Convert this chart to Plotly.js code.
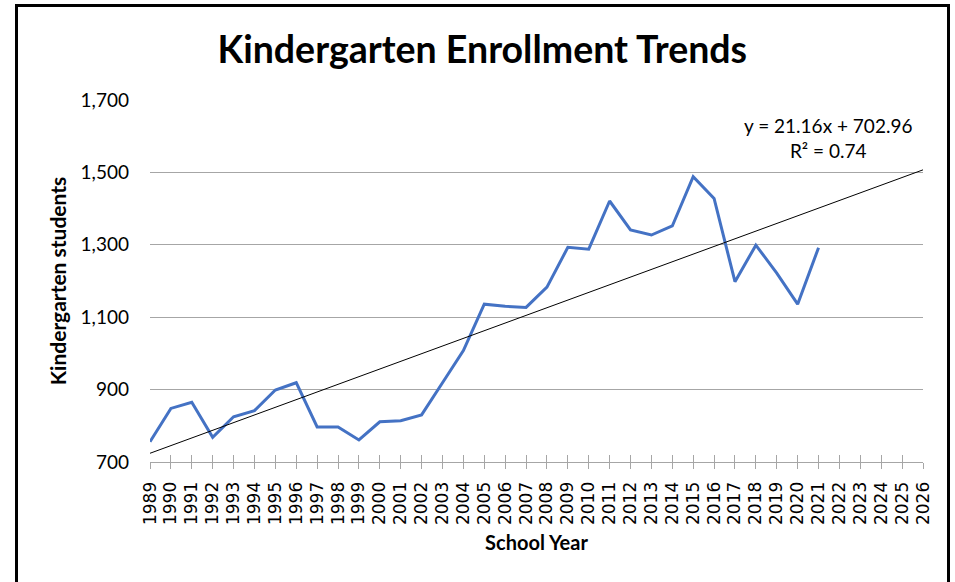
<!DOCTYPE html>
<html>
<head>
<meta charset="utf-8">
<script src="https://cdn.plot.ly/plotly-3.0.1.min.js"></script>
<style>
  html, body { margin: 0; padding: 0; overflow: hidden; background: #fff; }
  #chart { position: absolute; left: 0; top: 0; width: 955px; height: 582px; }
  #frame { position: absolute; left: 15px; top: 4px; width: 935px; height: 700px;
           border: 3px solid #000; box-sizing: border-box; pointer-events: none; }
</style>
</head>
<body>
<div id="chart"></div>
<div id="frame"></div>
<script>
// ---- data ----
const years = ["1989","1990","1991","1992","1993","1994","1995","1996","1997","1998",
               "1999","2000","2001","2002","2003","2004","2005","2006","2007","2008",
               "2009","2010","2011","2012","2013","2014","2015","2016","2017","2018",
               "2019","2020","2021","2022","2023","2024","2025","2026"];
const enrollment = [756, 848, 865, 768, 825, 842, 899, 919, 797, 797,
                    761, 811, 814, 830, 919, 1008, 1136, 1130, 1127, 1183,
                    1293, 1288, 1421, 1341, 1327, 1352, 1488, 1428, 1198, 1299,
                    1222, 1136, 1292];
const trendSlope = 21.16;
const trendIntercept = 702.96;
const yTickVals = [700, 900, 1100, 1300, 1500, 1700];
const chartTitle = "Kindergarten Enrollment Trends";
const xTitle = "School Year";
const yTitle = "Kindergarten students";
const trendLabel = "y = 21.16x + 702.96<br>R² = 0.74";

const trendY = years.map((_, i) => trendSlope * (i + 1) + trendIntercept);

const FONT = "Lato, 'Open Sans', sans-serif";
const GRID = "#a6a6a6";

const traces = [
  {
    x: years.slice(0, enrollment.length),
    y: enrollment,
    type: "scatter",
    mode: "lines",
    line: { color: "#4472C4", width: 3 },
    hoverinfo: "x+y",
    showlegend: false
  },
  {
    x: years,
    y: trendY,
    xaxis: "x2",
    type: "scatter",
    mode: "lines",
    line: { color: "#000000", width: 1 },
    hoverinfo: "skip",
    showlegend: false
  }
];

const layout = {
  width: 955,
  height: 582,
  margin: { l: 150, r: 32, t: 100, b: 120, pad: 0 },
  paper_bgcolor: "#ffffff",
  plot_bgcolor: "#ffffff",
  showlegend: false,
  title: {
    text: "<b>" + chartTitle + "</b>",
    font: { family: FONT, size: 37.5, color: "#000" },
    xref: "container", x: 0.505, xanchor: "center",
    yref: "container", y: 0.915, yanchor: "middle"
  },
  xaxis: {
    type: "category",
    categoryorder: "array",
    categoryarray: years,
    range: [0, years.length - 1],
    tickmode: "array",
    tickvals: years,
    ticktext: years,
    showgrid: false,
    zeroline: false,
    showline: true,
    linecolor: GRID,
    linewidth: 1,
    ticks: "outside",
    ticklen: 6,
    tickcolor: GRID,
    tickwidth: 1,
    tickangle: -90,
    ticklabelstandoff: 6,
    tickfont: { family: "DejaVu Sans, sans-serif", size: 17, color: "#000" },
    title: { text: "<b>" + xTitle + "</b>", font: { family: FONT, size: 20, color: "#000" }, standoff: 11 },
    automargin: false,
    fixedrange: true
  },
  xaxis2: {
    type: "category",
    categoryorder: "array",
    categoryarray: years,
    overlaying: "x",
    range: [0, years.length - 1],
    tickmode: "array",
    tickvals: years,
    showgrid: false,
    zeroline: false,
    showline: false,
    ticks: "inside",
    ticklen: 7,
    tickcolor: GRID,
    showticklabels: false,
    side: "bottom",
    anchor: "y",
    fixedrange: true
  },
  yaxis: {
    range: [700, 1700],
    tickvals: yTickVals,
    tickformat: ",",
    showgrid: true,
    gridcolor: GRID,
    gridwidth: 1,
    zeroline: false,
    showline: false,
    ticks: "",
    ticklabelstandoff: 20,
    tickfont: { family: FONT, size: 19, color: "#000" },
    title: { text: "<b>" + yTitle + "</b>", font: { family: FONT, size: 21, color: "#000" }, standoff: 8 },
    automargin: false,
    fixedrange: true
  },
  annotations: [
    {
      text: trendLabel,
      xref: "paper", yref: "paper",
      x: 0.877, y: 0.894,
      xanchor: "center", yanchor: "middle",
      align: "center",
      showarrow: false,
      font: { family: FONT, size: 19, color: "#000" }
    }
  ]
};

Plotly.newPlot("chart", traces, layout, { displayModeBar: false, staticPlot: true });
</script>
</body>
</html>
